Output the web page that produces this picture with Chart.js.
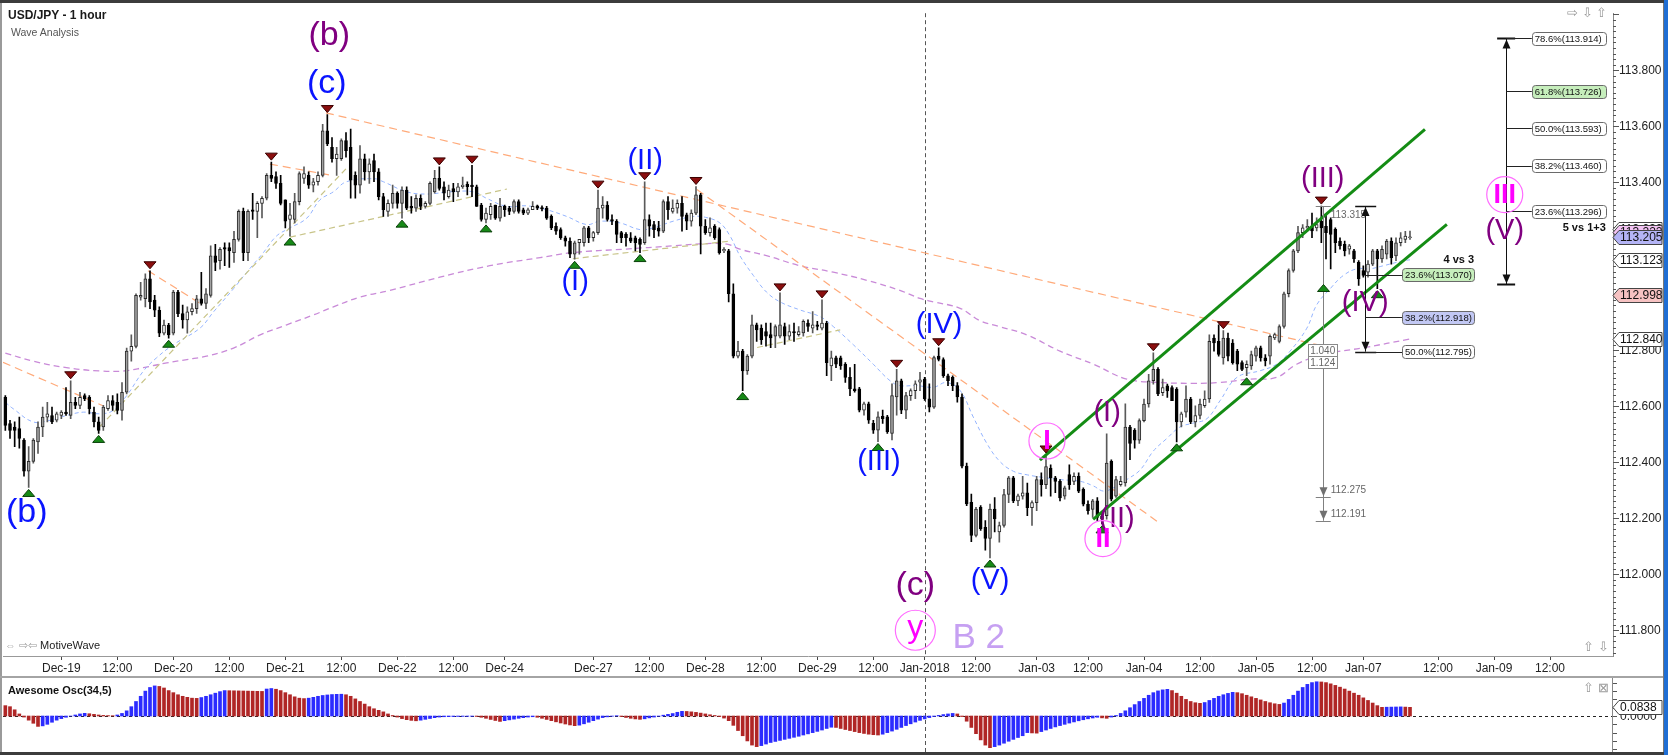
<!DOCTYPE html>
<html>
<head>
<meta charset="utf-8">
<script src="https://cdn.jsdelivr.net/npm/chart.js@4.4.1/dist/chart.umd.min.js"></script>
<style>
html, body { margin: 0; padding: 0; background: #fff; }
#wrap { position: relative; width: 1668px; height: 755px; overflow: hidden; font-family: "Liberation Sans", Arial, sans-serif; }
canvas { position: absolute; left: 0; }
.t { position: absolute; white-space: nowrap; line-height: 1; }
.bar { position: absolute; }
</style>
</head>
<body>
<div id="wrap">
  <canvas id="main" width="1668" height="676" style="top:0"></canvas>
  <canvas id="osc" width="1668" height="74" style="top:678px"></canvas>

  <div class="bar" style="left:0;top:0;width:1668px;height:3px;background:#3c3c3c"></div>
  <div class="bar" style="left:0;top:3px;width:2px;height:749px;background:#9a9a9a"></div>
  <div class="bar" style="left:0;top:676px;width:1664px;height:2px;background:#a4a4a4"></div>
  <div class="bar" style="left:0;top:752px;width:1668px;height:3px;background:#3c3c3c"></div>
  <div class="bar" style="left:1663px;top:3px;width:1px;height:749px;background:#777"></div>
  <div class="bar" style="left:1664px;top:0;width:4px;height:755px;background:#1f6ed4"></div>

  <div class="t" style="left:8px;top:9px;font-size:12px;font-weight:bold;color:#1a1a1a">USD/JPY - 1 hour</div>
  <div class="t" style="left:11px;top:27px;font-size:10.5px;color:#555">Wave Analysis</div>
  <div class="t" style="left:1567px;top:6px;font-size:13px;color:#9a9a9a">⇨ ⇩ ⇧</div>
  <div class="t" style="left:5px;top:640px;font-size:11px;color:#222"><span style="color:#999">⇔ ⇨⇦</span> MotiveWave</div>
  <div class="t" style="left:1583px;top:640px;font-size:13px;color:#9a9a9a">⇧ ⇩</div>
  <div class="t" style="left:8px;top:685px;font-size:11px;font-weight:bold;color:#111">Awesome Osc(34,5)</div>
  <div class="t" style="left:1583px;top:681px;font-size:13px;color:#9a9a9a">⇧ ⊠</div>
</div>

<script>
// ---- data ----
const tickLabels = [[12,'Dec-19'],[24,'12:00'],[36,'Dec-20'],[48,'12:00'],[60,'Dec-21'],[72,'12:00'],
  [84,'Dec-22'],[96,'12:00'],[107,'Dec-24'],[126,'Dec-27'],[138,'12:00'],[150,'Dec-28'],[162,'12:00'],
  [174,'Dec-29'],[186,'12:00'],[197,'Jan-2018'],[208,'12:00'],[221,'Jan-03'],[232,'12:00'],[244,'Jan-04'],
  [256,'12:00'],[268,'Jan-05'],[280,'12:00'],[291,'Jan-07'],[307,'12:00'],[319,'Jan-09'],[331,'12:00']];
const yearStart = 197;
const priceLabels = [111.8, 112.0, 112.2, 112.4, 112.6, 112.8, 113.0, 113.2, 113.4, 113.6, 113.8];

// hourly candles: [open, high, low, close]
const ohlc = [
[112.632,112.638,112.514,112.532],[112.538,112.550,112.485,112.514],[112.526,112.544,112.456,112.514],[112.520,112.561,112.450,112.485],
[112.479,112.485,112.350,112.368],[112.368,112.456,112.310,112.403],[112.403,112.485,112.397,112.479],[112.473,112.544,112.432,112.526],
[112.526,112.597,112.491,112.561],[112.561,112.614,112.544,112.573],[112.567,112.597,112.538,112.544],[112.550,112.579,112.544,112.573],
[112.567,112.585,112.556,112.579],[112.579,112.667,112.567,112.573],[112.567,112.691,112.556,112.614],[112.614,112.632,112.591,112.603],
[112.603,112.650,112.591,112.632],[112.638,112.644,112.620,112.626],[112.632,112.638,112.573,112.591],[112.579,112.597,112.526,112.544],
[112.544,112.561,112.503,112.514],[112.526,112.603,112.514,112.597],[112.591,112.638,112.585,112.620],[112.620,112.638,112.585,112.603],
[112.614,112.644,112.573,112.585],[112.585,112.685,112.550,112.650],[112.650,112.808,112.644,112.797],[112.797,112.855,112.761,112.814],
[112.814,113.002,112.808,112.996],[112.990,113.043,112.979,112.996],[112.984,113.073,112.955,113.055],[113.055,113.084,112.949,112.973],
[112.979,112.996,112.920,112.943],[112.943,112.955,112.849,112.861],[112.861,112.908,112.855,112.890],[112.890,112.896,112.843,112.855],
[112.861,113.014,112.855,113.008],[113.008,113.014,112.920,112.931],[112.931,112.961,112.879,112.908],[112.908,112.955,112.861,112.937],
[112.938,112.967,112.926,112.949],[112.949,112.996,112.932,112.984],[112.984,113.078,112.961,112.967],[112.967,113.020,112.949,113.002],
[112.996,113.173,112.990,113.137],[113.137,113.178,113.084,113.114],[113.120,113.167,113.090,113.161],[113.167,113.184,113.102,113.161],
[113.167,113.184,113.096,113.155],[113.149,113.225,113.114,113.196],[113.196,113.302,113.190,113.296],[113.296,113.308,113.120,113.149],
[113.149,113.302,113.120,113.296],[113.302,113.361,113.267,113.296],[113.296,113.331,113.202,113.325],[113.325,113.349,113.273,113.343],
[113.343,113.431,113.337,113.425],[113.425,113.472,113.402,113.414],[113.420,113.437,113.378,113.396],[113.396,113.425,113.319,113.325],
[113.337,113.337,113.237,113.261],[113.267,113.325,113.208,113.284],[113.267,113.361,113.255,113.331],[113.331,113.437,113.319,113.431],
[113.414,113.455,113.396,113.431],[113.425,113.437,113.378,113.390],[113.390,113.414,113.366,113.402],[113.402,113.437,113.390,113.425],
[113.425,113.607,113.419,113.584],[113.584,113.642,113.531,113.537],[113.525,113.560,113.472,113.484],[113.484,113.525,113.425,113.501],
[113.484,113.555,113.478,113.549],[113.549,113.578,113.490,113.513],[113.525,113.590,113.343,113.408],[113.425,113.437,113.343,113.390],
[113.390,113.531,113.361,113.484],[113.484,113.501,113.408,113.437],[113.437,113.484,113.396,113.466],[113.478,113.501,113.402,113.437],
[113.437,113.449,113.337,113.349],[113.349,113.361,113.278,113.302],[113.296,113.337,113.278,113.325],[113.325,113.390,113.308,113.361],
[113.361,113.366,113.308,113.325],[113.325,113.384,113.272,113.372],[113.372,113.384,113.302,113.308],[113.314,113.349,113.290,113.308],
[113.308,113.355,113.296,113.343],[113.343,113.355,113.302,113.314],[113.314,113.331,113.308,113.325],[113.325,113.402,113.319,113.396],
[113.366,113.443,113.361,113.414],[113.414,113.455,113.372,113.378],[113.384,113.402,113.337,113.361],[113.349,113.390,113.343,113.372],
[113.378,113.396,113.331,113.366],[113.366,113.396,113.349,113.384],[113.384,113.419,113.378,113.390],[113.393,113.402,113.355,113.384],
[113.390,113.461,113.349,113.384],[113.384,113.390,113.314,113.314],[113.319,113.325,113.261,113.267],[113.267,113.308,113.255,113.290],
[113.284,113.325,113.267,113.314],[113.319,113.319,113.267,113.272],[113.272,113.343,113.261,113.314],[113.314,113.319,113.278,113.302],
[113.308,113.314,113.284,113.296],[113.296,113.337,113.290,113.331],[113.331,113.337,113.290,113.296],[113.302,113.308,113.284,113.290],
[113.290,113.308,113.284,113.302],[113.302,113.331,113.302,113.314],[113.316,113.319,113.302,113.308],[113.310,113.316,113.298,113.305],
[113.308,113.314,113.267,113.272],[113.278,113.284,113.231,113.237],[113.243,113.255,113.214,113.225],[113.231,113.237,113.196,113.202],
[113.202,113.208,113.172,113.190],[113.190,113.202,113.131,113.143],[113.143,113.190,113.125,113.184],[113.184,113.196,113.143,113.196],
[113.184,113.243,113.172,113.237],[113.237,113.243,113.184,113.202],[113.202,113.225,113.190,113.220],[113.220,113.372,113.214,113.308],
[113.308,113.349,113.272,113.319],[113.319,113.331,113.261,113.267],[113.267,113.284,113.249,113.261],[113.261,113.267,113.184,113.214],
[113.220,113.225,113.184,113.202],[113.214,113.220,113.172,113.202],[113.202,113.220,113.184,113.190],[113.202,113.208,113.155,113.184],
[113.196,113.202,113.149,113.178],[113.184,113.402,113.178,113.267],[113.267,113.284,113.208,113.243],[113.249,113.261,113.202,113.231],
[113.237,113.261,113.208,113.225],[113.225,113.337,113.220,113.331],[113.331,113.349,113.267,113.302],[113.296,113.337,113.290,113.308],
[113.308,113.337,113.290,113.325],[113.325,113.349,113.225,113.278],[113.284,113.290,113.231,113.261],[113.261,113.302,113.243,113.290],
[113.290,113.385,113.284,113.355],[113.355,113.361,113.144,113.243],[113.243,113.267,113.214,113.220],[113.220,113.273,113.208,113.237],
[113.243,113.249,113.196,113.202],[113.231,113.237,113.143,113.149],[113.155,113.167,113.149,113.161],[113.155,113.161,112.973,113.002],
[113.002,113.037,112.773,112.779],[112.779,112.832,112.773,112.797],[112.797,112.803,112.656,112.726],[112.726,112.785,112.714,112.779],
[112.779,112.926,112.773,112.891],[112.891,112.897,112.832,112.873],[112.879,112.891,112.821,112.838],[112.867,112.897,112.815,112.850],
[112.856,112.897,112.809,112.844],[112.850,112.891,112.809,112.885],[112.850,113.005,112.844,112.891],[112.885,112.897,112.821,112.850],
[112.850,112.891,112.838,112.867],[112.867,112.897,112.832,112.862],[112.856,112.885,112.850,112.867],[112.862,112.909,112.850,112.903],
[112.897,112.909,112.867,112.885],[112.879,112.938,112.862,112.891],[112.891,112.903,112.873,112.885],[112.879,112.980,112.873,112.897],
[112.897,112.903,112.709,112.756],[112.744,112.797,112.691,112.773],[112.773,112.779,112.738,112.750],[112.773,112.779,112.732,112.744],
[112.750,112.756,112.685,112.703],[112.703,112.738,112.638,112.662],[112.662,112.750,112.650,112.656],[112.662,112.668,112.580,112.586],
[112.586,112.615,112.568,112.609],[112.609,112.615,112.539,112.550],[112.539,112.550,112.503,112.515],[112.515,112.580,112.474,112.562],
[112.564,112.586,112.539,112.556],[112.562,112.568,112.503,112.509],[112.503,112.680,112.480,112.638],[112.633,112.732,112.568,112.691],
[112.691,112.697,112.574,112.586],[112.586,112.650,112.556,112.638],[112.638,112.662,112.621,112.656],[112.656,112.691,112.627,112.680],
[112.686,112.721,112.656,112.694],[112.697,112.703,112.621,112.627],[112.627,112.680,112.580,112.597],[112.597,112.779,112.592,112.774],
[112.779,112.809,112.762,112.767],[112.767,112.773,112.703,112.709],[112.709,112.715,112.674,112.691],[112.703,112.709,112.656,112.674],
[112.674,112.685,112.615,112.633],[112.633,112.644,112.380,112.386],[112.386,112.397,112.245,112.251],[112.257,112.286,112.116,112.139],
[112.139,112.239,112.133,112.233],[112.239,112.245,112.157,112.163],[112.168,112.192,112.086,112.128],[112.128,112.251,112.058,112.233],
[112.233,112.274,112.151,112.198],[112.151,112.186,112.115,112.174],[112.174,112.303,112.168,112.285],[112.285,112.350,112.256,112.344],
[112.344,112.350,112.256,112.262],[112.262,112.286,112.245,112.280],[112.279,112.350,112.268,112.291],[112.291,112.326,112.209,112.238],
[112.238,112.262,112.174,112.256],[112.256,112.350,112.227,112.338],[112.338,112.362,112.279,112.320],[112.320,112.426,112.306,112.385],
[112.379,112.391,112.279,112.344],[112.344,112.350,112.291,112.332],[112.332,112.338,112.262,112.273],[112.279,112.315,112.268,112.309],
[112.356,112.391,112.303,112.320],[112.332,112.362,112.320,112.350],[112.350,112.362,112.291,112.297],[112.303,112.309,112.244,112.250],
[112.250,112.262,112.215,112.227],[112.232,112.268,112.203,112.262],[112.262,112.274,112.190,112.203],[112.209,112.221,112.180,112.197],
[112.209,112.502,112.197,112.397],[112.403,112.409,112.262,112.268],[112.279,112.350,112.274,112.338],[112.320,112.350,112.315,112.332],
[112.326,112.609,112.315,112.526],[112.526,112.532,112.409,112.467],[112.514,112.520,112.450,112.479],[112.479,112.555,112.467,112.549],
[112.549,112.626,112.544,112.608],[112.608,112.714,112.597,112.691],[112.691,112.791,112.679,112.732],[112.732,112.738,112.638,112.644],
[112.649,112.697,112.638,112.667],[112.673,112.679,112.632,112.655],[112.667,112.673,112.620,112.620],[112.661,112.667,112.473,112.544],
[112.544,112.579,112.526,112.573],[112.579,112.673,112.561,112.626],[112.626,112.632,112.538,112.544],[112.544,112.602,112.526,112.567],
[112.567,112.626,112.555,112.608],[112.602,112.655,112.596,112.626],[112.626,112.855,112.614,112.832],[112.844,112.855,112.797,112.826],
[112.832,112.891,112.779,112.785],[112.773,112.870,112.750,112.844],[112.844,112.861,112.762,112.779],[112.826,112.838,112.750,112.756],
[112.797,112.803,112.727,112.750],[112.756,112.762,112.727,112.732],[112.738,112.762,112.709,112.750],[112.744,112.797,112.732,112.785],
[112.779,112.815,112.761,112.809],[112.809,112.815,112.761,112.773],[112.773,112.785,112.744,112.762],[112.779,112.855,112.750,112.850],
[112.844,112.861,112.838,112.856],[112.832,112.891,112.826,112.885],[112.885,113.008,112.879,113.002],[113.002,113.091,112.991,113.085],
[113.085,113.161,113.079,113.155],[113.155,113.243,113.149,113.220],[113.220,113.249,113.202,113.237],[113.237,113.267,113.226,113.243],
[113.243,113.290,113.202,113.226],[113.237,113.273,113.226,113.249],[113.261,113.315,113.184,113.237],[113.243,113.284,113.126,113.220],
[113.267,113.273,113.091,113.214],[113.232,113.237,113.149,113.184],[113.190,113.202,113.161,113.173],[113.178,113.190,113.137,113.155],
[113.161,113.178,113.143,113.173],[113.155,113.161,113.114,113.126],[113.114,113.120,113.032,113.055],[113.085,113.102,113.061,113.067],
[113.079,113.120,113.061,113.108],[113.108,113.161,113.102,113.155],[113.155,113.161,113.020,113.126],[113.126,113.173,113.114,113.161],
[113.143,113.196,113.126,113.190],[113.190,113.202,113.108,113.131],[113.137,113.202,113.120,113.184],[113.184,113.220,113.173,113.202],
[113.196,113.225,113.184,113.208],[113.202,113.226,113.196,113.205]
];

// Awesome Oscillator(34,5), one value per candle
const ao = [
0.100,0.090,0.060,0.020,-0.010,-0.040,-0.070,-0.100,-0.095,-0.080,-0.060,-0.040,-0.025,-0.012,0.000,0.010,
0.020,0.026,0.022,0.016,0.010,0.006,0.004,0.003,0.010,0.025,0.050,0.090,0.140,0.190,0.240,0.275,
0.290,0.285,0.270,0.245,0.225,0.205,0.190,0.180,0.172,0.170,0.178,0.190,0.205,0.220,0.235,0.245,
0.244,0.243,0.242,0.241,0.240,0.239,0.238,0.237,0.260,0.265,0.258,0.245,0.225,0.205,0.185,0.172,
0.168,0.172,0.180,0.190,0.198,0.203,0.207,0.209,0.210,0.205,0.190,0.165,0.140,0.115,0.090,0.070,
0.055,0.040,0.020,0.005,-0.010,-0.025,-0.035,-0.042,-0.046,-0.040,-0.032,-0.024,-0.016,-0.010,-0.007,-0.006,
-0.005,-0.004,-0.0035,-0.003,-0.0025,-0.004,-0.012,-0.022,-0.033,-0.043,-0.052,-0.045,-0.037,-0.030,-0.022,-0.016,
-0.010,-0.007,-0.012,-0.022,-0.033,-0.045,-0.056,-0.067,-0.077,-0.086,-0.093,-0.088,-0.075,-0.060,-0.045,-0.030,
-0.015,-0.008,-0.002,0.003,-0.005,-0.014,-0.022,-0.028,-0.032,-0.027,-0.018,-0.010,-0.002,0.008,0.016,0.024,
0.036,0.045,0.044,0.040,0.035,0.028,0.020,0.012,0.005,-0.005,-0.020,-0.045,-0.090,-0.140,-0.190,-0.240,
-0.280,-0.295,-0.285,-0.270,-0.255,-0.245,-0.235,-0.225,-0.215,-0.205,-0.195,-0.183,-0.172,-0.160,-0.148,-0.135,
-0.120,-0.108,-0.110,-0.120,-0.130,-0.140,-0.150,-0.160,-0.168,-0.175,-0.180,-0.183,-0.175,-0.160,-0.145,-0.128,
-0.110,-0.092,-0.075,-0.058,-0.042,-0.028,-0.015,-0.004,0.006,0.014,0.020,0.025,0.020,-0.005,-0.050,-0.110,
-0.170,-0.230,-0.280,-0.305,-0.295,-0.280,-0.262,-0.243,-0.225,-0.207,-0.190,-0.160,-0.163,-0.165,-0.150,-0.135,
-0.120,-0.105,-0.092,-0.080,-0.068,-0.057,-0.046,-0.036,-0.027,-0.019,-0.012,-0.018,-0.022,-0.010,0.005,0.025,
0.050,0.080,0.110,0.140,0.170,0.200,0.225,0.242,0.252,0.257,0.245,0.220,0.190,0.160,0.140,0.128,
0.122,0.130,0.150,0.170,0.190,0.205,0.218,0.228,0.225,0.215,0.200,0.185,0.170,0.155,0.140,0.128,
0.118,0.112,0.125,0.160,0.200,0.240,0.275,0.305,0.322,0.330,0.328,0.322,0.310,0.295,0.278,0.260,
0.240,0.220,0.200,0.175,0.150,0.125,0.100,0.084,0.085,0.086,0.087,0.088,0.086,0.0838
];

// moving averages read at sample points: [bar, price]
const fastMA = [[0,112.614],[1.7,112.591],[6,112.544],[9.6,112.550],[13.1,112.567],[16.7,112.579],[20.3,112.573],[23.1,112.585],
  [26,112.638],[29.6,112.726],[32.4,112.773],[36,112.820],[41.7,112.879],[44.6,112.937],[48.9,113.020],[51.7,113.078],
  [55.3,113.149],[58.1,113.208],[61,113.237],[64.6,113.272],[67.4,113.337],[70.3,113.366],[73.1,113.402],[78.9,113.413],
  [81,113.402],[86,113.366],[90.3,113.358],[95.3,113.366],[100.3,113.366],[103.1,113.343],[107.4,113.314],[111.7,113.316],
  [116,113.302],[120.3,113.278],[124.6,113.249],[127.4,113.261],[131.7,113.255],[136,113.231],[138.8,113.237],[143.1,113.261],
  [147.4,113.278],[150,113.275],[153.1,113.255],[155.3,113.208],[157.4,113.138],[160.3,113.067],[163.1,113.008],[166,112.973],
  [170.3,112.944],[174.6,112.920],[177.4,112.885],[181.7,112.820],[186,112.750],[189.6,112.691],[191.7,112.674],[195.3,112.674],
  [198.9,112.668],[201.7,112.685],[204.6,112.656],[207.4,112.562],[210.3,112.468],[213.1,112.403],[216,112.368],[219,112.355],
  [223.2,112.344],[226,112.338],[230.3,112.332],[233.2,112.315],[235.3,112.297],[237.5,112.309],[240.3,112.338],[243.2,112.373],
  [246,112.440],[248.9,112.485],[251.7,112.526],[254.6,112.540],[257.5,112.556],[260.3,112.620],[263.9,112.703],[268.9,112.727],
  [272.4,112.750],[275.3,112.797],[278.9,112.879],[281,112.962],[283.9,113.020],[286.7,113.067],[289.6,113.091],[292.4,113.091],
  [295.3,113.102],[299.6,113.120],[301,113.123]];
const slowMA = [[0,112.790],[6,112.761],[13.1,112.738],[20.3,112.726],[25.3,112.726],[29.6,112.738],[34.6,112.755],[38.9,112.767],
  [43.1,112.779],[48.9,112.808],[54.6,112.855],[60.3,112.891],[66,112.926],[70.3,112.955],[76,112.990],[82.4,113.014],
  [93.1,113.061],[103.8,113.102],[114.6,113.131],[121.7,113.149],[132.4,113.161],[143.1,113.173],[148.9,113.180],[154.6,113.179],
  [157.4,113.161],[163.1,113.138],[170.3,113.102],[177.4,113.079],[184.6,113.050],[191.7,113.014],[196,112.985],[198.9,112.973],
  [204.6,112.950],[208.9,112.905],[213,112.885],[218.9,112.855],[226,112.797],[233.2,112.750],[240.3,112.697],[247.5,112.685],
  [254.6,112.682],[260.3,112.685],[266.7,112.697],[272.4,112.703],[276.7,112.750],[282.4,112.785],[291,112.809],[301,112.840]];

// trend lines: [[bar, price], [bar, price]]
const orangeLines = [[[68.7,113.648],[281.1,112.820]],[[-0.5,112.757],[20.9,112.602]],[[30.6,113.084],[41.7,112.968]],
  [[56.7,113.465],[69.6,113.426]],[[148.2,113.374],[246.8,112.189]]];
const tanLines = [[[20.3,112.528],[73.4,113.455]],[[61,113.204],[107.5,113.376]],[[121.6,113.127],[155.3,113.190]],
  [[161.1,112.810],[178.9,112.873]]];
const channel = [[[221.7,112.408],[304.2,113.589]],[[233.1,112.196],[308.9,113.250]]];

const swingHighs = [14,31,57,69,93,100,127,137,148,166,175,191,200,223,246,261,282];
const swingLows = [5,20,35,61,85,103,122,136,158,187,211,235,251,266,294];

const fib513 = [['78.6%',113.914],['61.8%',113.726],['50.0%',113.593],['38.2%',113.460],['23.6%',113.296]];
const fib43 = [['23.6%',113.070],['38.2%',112.918],['50.0%',112.795]];
const projLevels = [113.315, 112.275, 112.191];
const projRatios = ['1.040','1.124'];
const axisTags = [[113.232,'#ffffff'],[113.222,'#f4c4f4'],[113.205,'#b4b4f6'],[113.123,'#ffffff'],[112.998,'#f6c2c2'],[112.840,'#ffffff']];
const aoLast = 0.0838;

// ---- wave labels (anchored in bar / price units) ----
const BLUE = '#0a14ff', PURPLE = '#800080', PINK = '#ff00ff';
const waves = [
  ['(b)',69.4,113.925,PURPLE,34],['(c)',68.9,113.751,BLUE,34],['(b)',4.6,112.219,BLUE,34],
  ['(I)',122.1,113.043,BLUE,29],['(II)',137.1,113.476,BLUE,29],['(III)',187.2,112.402,BLUE,29],
  ['(IV)',200.1,112.892,BLUE,29],['(V)',211,111.976,BLUE,29],['(c)',195,111.958,PURPLE,34],
  ['(I)',236.1,112.575,PURPLE,29],['(II)',238.2,112.198,PURPLE,29],['(III)',282.3,113.413,PURPLE,29],
  ['(IV)',291.4,112.969,PURPLE,29],['(V)',321.3,113.225,PURPLE,29]
];
const circled = [['y',195,111.800],['I',223.2,112.476],['II',235.2,112.127],['III',321.3,113.356]];

const FONT = '"Liberation Sans", Arial, sans-serif';
const X_MIN = -0.5, X_MAX = 344.5;

function rr(ctx, x, y, w, h, r) {
  ctx.beginPath();
  ctx.moveTo(x + r, y);
  ctx.arcTo(x + w, y, x + w, y + h, r);
  ctx.arcTo(x + w, y + h, x, y + h, r);
  ctx.arcTo(x, y + h, x, y, r);
  ctx.arcTo(x, y, x + w, y, r);
  ctx.closePath();
}

function tag(ctx, left, y, text, fill) {
  const h = 14, tip = 6, w = 49;
  y = Math.round(y) + 0.5;
  ctx.beginPath();
  ctx.moveTo(left, y);
  ctx.lineTo(left + tip, y - h / 2);
  ctx.lineTo(left + w, y - h / 2);
  ctx.lineTo(left + w, y + h / 2);
  ctx.lineTo(left + tip, y + h / 2);
  ctx.closePath();
  ctx.fillStyle = fill; ctx.fill();
  ctx.strokeStyle = '#444'; ctx.lineWidth = 1; ctx.stroke();
  ctx.fillStyle = '#111'; ctx.font = '12px ' + FONT;
  ctx.textAlign = 'left'; ctx.textBaseline = 'middle';
  ctx.fillText(text, left + tip + 1, y + 0.5);
}

function box(ctx, left, cy, w, text, fill) {
  const h = 13;
  rr(ctx, Math.round(left) + 0.5, Math.round(cy - h / 2) + 0.5, w, h, 3);
  ctx.fillStyle = fill; ctx.fill();
  ctx.strokeStyle = '#6a6a6a'; ctx.lineWidth = 1; ctx.stroke();
  ctx.fillStyle = '#111'; ctx.font = '9.5px ' + FONT;
  ctx.textAlign = 'left'; ctx.textBaseline = 'middle';
  ctx.fillText(text, left + 3, cy + 1);
}

function arrow(ctx, x, tipY, dir, color) {
  ctx.beginPath();
  ctx.moveTo(x, tipY);
  ctx.lineTo(x - 4, tipY + dir * 9);
  ctx.lineTo(x + 4, tipY + dir * 9);
  ctx.closePath();
  ctx.fillStyle = color; ctx.fill();
}

function hline(ctx, x1, x2, y, color, w) {
  ctx.strokeStyle = color; ctx.lineWidth = w || 1;
  ctx.beginPath(); ctx.moveTo(x1, Math.round(y) + 0.5); ctx.lineTo(x2, Math.round(y) + 0.5); ctx.stroke();
}
function vline(ctx, x, y1, y2, color) {
  ctx.strokeStyle = color; ctx.lineWidth = 1;
  ctx.beginPath(); ctx.moveTo(Math.round(x) + 0.5, y1); ctx.lineTo(Math.round(x) + 0.5, y2); ctx.stroke();
}

function triangle(ctx, cx, tipY, baseY, fill, stroke) {
  ctx.beginPath();
  ctx.moveTo(cx, tipY);
  ctx.lineTo(cx - 6, baseY);
  ctx.lineTo(cx + 6, baseY);
  ctx.closePath();
  ctx.fillStyle = fill; ctx.fill();
  ctx.strokeStyle = stroke; ctx.lineWidth = 1; ctx.stroke();
}

const overlay = {
  id: 'overlay',
  beforeDatasetsDraw(chart) {
    const { ctx, chartArea: a, scales: { x } } = chart;
    ctx.save();
    ctx.setLineDash([4, 3]);
    vline(ctx, x.getPixelForValue(yearStart), a.top, a.bottom, '#555');
    ctx.restore();
  },
  afterDatasetsDraw(chart) {
    const { ctx, scales: { x, y } } = chart;
    const X = v => x.getPixelForValue(v), Y = v => y.getPixelForValue(v);
    ctx.save();

    // swing markers
    swingHighs.forEach(i => {
      const hy = Y(ohlc[i][1]);
      triangle(ctx, X(i), hy - 2, hy - 9, '#8a0e0e', '#3a0000');
    });
    swingLows.forEach(i => {
      const ly = Y(ohlc[i][2]);
      triangle(ctx, X(i), ly + 2, ly + 9, '#178a17', '#0a400a');
    });

    // projection from wave (III)
    const gx = X(282.3);
    vline(ctx, gx, Y(projLevels[0]), Y(projLevels[2]), '#808080');
    projLevels.forEach((v, k) => {
      hline(ctx, gx - 7, gx + 8, Y(v), '#808080');
      if (k > 0) arrow(ctx, Math.round(gx) + 0.5, Y(v) - 1, -1, '#707070');
    });
    triangle(ctx, Math.round(gx) + 0.5, Y(113.035), Y(113.035) + 7, '#178a17', '#0a400a');
    ctx.fillStyle = '#666'; ctx.font = '10px ' + FONT; ctx.textAlign = 'left'; ctx.textBaseline = 'middle';
    ctx.fillText(projLevels[0].toFixed(3), gx + 8, Y(projLevels[0]) + 9);
    ctx.fillText(projLevels[1].toFixed(3), gx + 8, Y(projLevels[1]) - 7);
    ctx.fillText(projLevels[2].toFixed(3), gx + 8, Y(projLevels[2]) - 7);
    const rTop = Math.round(Y(112.822)) + 0.5;
    projRatios.forEach((t, k) => {
      ctx.fillStyle = '#fff';
      ctx.fillRect(Math.round(gx) - 14.5, rTop + k * 12, 29, 12);
      ctx.strokeStyle = '#8a8a8a'; ctx.lineWidth = 1;
      ctx.strokeRect(Math.round(gx) - 14.5, rTop + k * 12, 29, 12);
      ctx.fillStyle = '#666'; ctx.textAlign = 'center';
      ctx.fillText(t, gx, rTop + k * 12 + 6.5);
    });

    // 4 vs 3 retracement
    const fx = X(291.4), fTop = Y(113.315), fBot = Y(112.795), fbl = X(299.3);
    vline(ctx, fx, fTop, fBot, '#111');
    hline(ctx, fx - 10, fx + 11, fTop, '#111', 1.5);
    hline(ctx, fx - 10, fx + 11, fBot, '#111', 1.5);
    arrow(ctx, Math.round(fx) + 0.5, fTop + 1, 1, '#111');
    arrow(ctx, Math.round(fx) + 0.5, fBot - 1, -1, '#111');
    const fills43 = ['#c6eebc', '#c2c8f4', '#ffffff'];
    fib43.forEach(([lbl, v], k) => {
      hline(ctx, fx, fbl, Y(v), '#222');
      box(ctx, fbl, Y(v), 72, lbl + '(' + v.toFixed(3) + ')', fills43[k]);
    });
    ctx.fillStyle = '#111'; ctx.font = 'bold 11px ' + FONT; ctx.textAlign = 'right'; ctx.textBaseline = 'middle';
    ctx.fillText('4 vs 3', fbl + 72, Y(fib43[0][1]) - 15);

    // 5 vs 1+3 projection
    const tx = X(321.6), tTop = Y(113.914), tBot = Y(113.035), tbl = X(327.1);
    vline(ctx, tx, tTop, tBot, '#111');
    hline(ctx, tx - 9, tx + 9, tTop, '#111', 2);
    hline(ctx, tx - 9, tx + 9, tBot, '#111', 2);
    arrow(ctx, Math.round(tx) + 0.5, tTop + 1, 1, '#111');
    arrow(ctx, Math.round(tx) + 0.5, tBot - 1, -1, '#111');
    fib513.forEach(([lbl, v]) => {
      hline(ctx, tx, tbl, Y(v), '#222');
      box(ctx, tbl, Y(v), 74, lbl + '(' + v.toFixed(3) + ')', lbl === '61.8%' ? '#c6eebc' : '#ffffff');
    });
    ctx.fillStyle = '#111'; ctx.font = 'bold 11px ' + FONT; ctx.textAlign = 'right'; ctx.textBaseline = 'middle';
    ctx.fillText('5 vs 1+3', tbl + 74, Y(113.296) + 17);

    // wave labels
    ctx.textAlign = 'center'; ctx.textBaseline = 'middle';
    waves.forEach(([t, i, p, col, size]) => {
      ctx.fillStyle = col; ctx.font = size + 'px ' + FONT;
      ctx.fillText(t, X(i), Y(p));
    });
    ctx.fillStyle = '#c6a0f2'; ctx.font = '35px ' + FONT;
    ctx.fillText('B 2', X(208.6), Y(111.772));
    circled.forEach(([t, i, p]) => {
      const cx = X(i), cy = Y(p);
      ctx.beginPath(); ctx.arc(cx, cy, t === 'y' ? 20 : 18, 0, Math.PI * 2);
      ctx.strokeStyle = '#ff6cff'; ctx.lineWidth = 1.2; ctx.stroke();
      ctx.fillStyle = PINK;
      ctx.font = (t === 'y' ? '32px ' : 'bold 27px ') + FONT;
      ctx.fillText(t, cx, cy + (t === 'y' ? -2 : 1));
    });
    ctx.restore();
  },
  afterDraw(chart) {
    const { ctx, chartArea: a, scales: { y } } = chart;
    ctx.save();
    const ax = a.right;
    ctx.strokeStyle = '#555'; ctx.lineWidth = 1;
    for (let k = 5586; k <= 5700; k++) {
      const yy = Math.round(y.getPixelForValue(k / 50)) + 0.5;
      if (yy < a.top || yy > a.bottom) continue;
      const len = k % 10 === 0 ? 6 : 3;
      ctx.beginPath(); ctx.moveTo(ax, yy); ctx.lineTo(ax + len, yy); ctx.stroke();
    }
    axisTags.forEach(([v, fill]) => tag(ctx, ax, y.getPixelForValue(v), v.toFixed(3), fill));
    ctx.restore();
  }
};

const oscOverlay = {
  id: 'oscOverlay',
  beforeDatasetsDraw(chart) {
    const { ctx, chartArea: a, scales: { x, y } } = chart;
    ctx.save();
    ctx.setLineDash([3, 3]);
    hline(ctx, a.left, a.right, y.getPixelForValue(0), '#222');
    ctx.setLineDash([4, 3]);
    vline(ctx, x.getPixelForValue(yearStart), 0, chart.height, '#555');
    ctx.restore();
  },
  afterDraw(chart) {
    const { ctx, chartArea: a, scales: { y } } = chart;
    ctx.save();
    const ax = a.right;
    vline(ctx, ax - 1, 0, chart.height, '#888');
    ctx.strokeStyle = '#555'; ctx.lineWidth = 1;
    for (let k = -4; k <= 4; k++) {
      const yy = Math.round(y.getPixelForValue(k * 0.08)) + 0.5;
      ctx.beginPath(); ctx.moveTo(ax, yy); ctx.lineTo(ax + 4, yy); ctx.stroke();
    }
    ctx.fillStyle = '#222'; ctx.font = '12px ' + FONT; ctx.textAlign = 'left'; ctx.textBaseline = 'middle';
    ctx.fillText('0.0000', ax + 7, y.getPixelForValue(0) + 1);
    tag(ctx, ax, y.getPixelForValue(aoLast), aoLast.toFixed(4), '#ffffff');
    ctx.restore();
  }
};

// ---- datasets ----
const pts = arr => arr.map(p => ({ x: p[0], y: p[1] }));
const bull = ohlc.map(c => c[3] >= c[0]);
const wickData = ohlc.map((c, i) => ({ x: i, y: [c[2], c[1]] }));
const bodyData = ohlc.map((c, i) => ({ x: i, y: [c[0], c[3]] }));
const bodyFill = ohlc.map((c, i) => bull[i] ? (c[3] - c[0] > 0.03 ? '#a2a2a2' : '#ffffff') : '#000000');
const bodyBorder = bull.map(b => b ? '#2a2a2a' : '#000000');
const wickColor = bull.map(b => b ? '#5a5a5a' : '#000000');

const lineSet = (data, color, width, dash, order, tension) => ({
  type: 'line', data: pts(data), borderColor: color, borderWidth: width, borderDash: dash,
  pointRadius: 0, tension: tension || 0, order: order, fill: false
});

const datasets = [
  lineSet(slowMA, '#c98ad8', 1.3, [6, 4], 30, 0.4),
  lineSet(fastMA, '#94b4ff', 1, [4, 3], 29, 0.4),
  ...orangeLines.map(l => lineSet(l, '#ffaa7a', 1.2, [8, 5], 28)),
  ...tanLines.map(l => lineSet(l, '#c8c488', 1.2, [6, 4], 27)),
  { type: 'bar', data: wickData, backgroundColor: wickColor, barThickness: 1, grouped: false, order: 6 },
  { type: 'bar', data: bodyData, backgroundColor: bodyFill, borderColor: bodyBorder, borderWidth: 1,
    borderSkipped: false, barThickness: 3, minBarLength: 1, grouped: false, order: 5 },
  ...channel.map(l => lineSet(l, '#148c14', 3, [], 2))
];

new Chart(document.getElementById('main'), {
  type: 'bar',
  data: { datasets: datasets },
  options: {
    responsive: false, animation: false, events: [],
    layout: { padding: { left: 3, top: 4, right: 0, bottom: 0 } },
    plugins: { legend: { display: false }, tooltip: { enabled: false } },
    scales: {
      x: {
        type: 'linear', min: X_MIN, max: X_MAX, offset: false,
        afterBuildTicks: s => { s.ticks = tickLabels.map(t => ({ value: t[0] })); },
        afterFit: s => { s.height = 20; },
        ticks: {
          autoSkip: false, maxRotation: 0, padding: 1, color: '#222',
          font: { size: 12, family: FONT },
          callback: v => { const t = tickLabels.find(e => e[0] === v); return t ? t[1] : ''; }
        },
        grid: { drawOnChartArea: false, tickLength: 4, color: '#444', offset: false },
        border: { color: '#999' }
      },
      y: {
        position: 'right', min: 111.708, max: 114.004,
        afterBuildTicks: s => { s.ticks = priceLabels.map(v => ({ value: v })); },
        afterFit: s => { s.width = 55; },
        ticks: { padding: 6, color: '#222', font: { size: 12, family: FONT }, callback: v => v.toFixed(3) },
        grid: { drawOnChartArea: false, drawTicks: false },
        border: { color: '#888' }
      }
    }
  },
  plugins: [overlay]
});

const aoColor = ao.map((v, i) => (i > 0 && v >= ao[i - 1]) ? '#2b2bff' : '#b02626');
new Chart(document.getElementById('osc'), {
  type: 'bar',
  data: { datasets: [{ data: ao.map((v, i) => ({ x: i, y: v })), backgroundColor: aoColor, barThickness: 3, grouped: false }] },
  options: {
    responsive: false, animation: false, events: [],
    layout: { padding: { left: 3, top: 2, right: 0, bottom: 1 } },
    plugins: { legend: { display: false }, tooltip: { enabled: false } },
    scales: {
      x: { type: 'linear', min: X_MIN, max: X_MAX, offset: false, display: false },
      y: {
        position: 'right', min: -0.337, max: 0.347,
        afterFit: s => { s.width = 55; },
        ticks: { display: false },
        grid: { display: false },
        border: { display: false }
      }
    }
  },
  plugins: [oscOverlay]
});
</script>
</body>
</html>
